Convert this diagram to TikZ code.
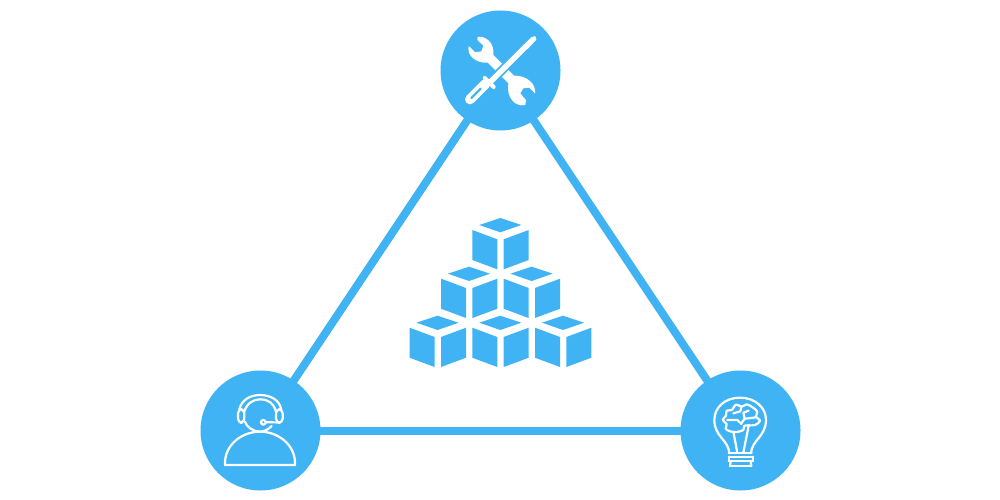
\documentclass[tikz,border=0pt]{standalone}
\definecolor{sky}{HTML}{3FB3F3}
\tikzset{
  hub/.style={circle,fill=sky,draw=none,minimum size=120pt,inner sep=0pt,outer sep=0pt},
  link/.style={draw=sky,line width=8pt,shorten >=-2pt,shorten <=-2pt},
  ico/.style={draw=white,line width=2.2pt,line join=round,line cap=round,fill=none},
  zoomed/.style={x=0.3333pt,y=-0.3333pt}
}
\newcommand{\cubeat}[2]{%
  \begin{scope}[shift={(#1,#2)}]
    \fill[sky] (-21,7) -- (0,0) -- (21,7) -- (0,14.3) -- cycle;
    \fill[sky] (-28,12) -- (-3,21.3) -- (-3,51.3) -- (-28,42) -- cycle;
    \fill[sky] (3.4,21.3) -- (28.4,12) -- (28.4,42) -- (3.4,51.3) -- cycle;
  \end{scope}}
\begin{document}
\begin{tikzpicture}[x=1pt,y=-1pt]
\useasboundingbox (0,0) rectangle (1000,500);
\fill[white] (0,0) rectangle (1000,500);
\node[hub] (tools) at (500.5,70.5) {};
\node[hub] (agent) at (260.5,430.5) {};
\node[hub] (idea) at (740.5,430.5) {};
\draw[link] (tools) -- (agent);
\draw[link] (agent) -- (idea);
\draw[link] (idea) -- (tools);
% blocks
\cubeat{500.3}{218}
\cubeat{469}{266.7}
\cubeat{531.6}{266.7}
\cubeat{437.6}{315.7}
\cubeat{500.3}{315.7}
\cubeat{563}{315.7}
% tools icon
\begin{scope}[shift={(440,10)},zoomed]
  \fill[white] (113,81) .. controls (135,76) and (165,98) .. (160,135)
    -- (222,197) .. controls (258,195) and (290,222) .. (285,250)
    -- (268,233) -- (250,235) -- (241,250) -- (258,270) -- (256,285)
    .. controls (225,292) and (198,262) .. (205,220)
    -- (143,158) .. controls (108,160) and (80,138) .. (86,108)
    -- (106,127) -- (124,124) -- (130,107) -- (112,90) -- cycle;
  \draw[sky,line width=9pt,line cap=round] (270,97) -- (150,217);
  \draw[sky,line width=13pt,line cap=round] (146,218) -- (90,268);
  \draw[white,line width=5.5pt,line cap=butt] (258,109) -- (150,217);
  \fill[white] (286,78) -- (289,89) -- (262,118) -- (250,105) -- (274,82) -- cycle;
  \draw[white,line width=4pt,line cap=round] (134,204) -- (161,231);
  \draw[white,line width=10pt,line cap=round] (136,222) -- (90,268);
  \draw[sky,line width=2.2pt,line cap=round] (122,236) -- (94,264);
\end{scope}
% agent icon
\begin{scope}[shift={(200,370)},zoomed]
  \draw[ico] (75,285) .. controls (72,225) and (125,185) .. (180,185)
    .. controls (235,185) and (288,225) .. (285,285) -- cycle;
  \draw[ico] (133,125) .. controls (140,100) and (160,88) .. (180,88)
    .. controls (205,88) and (222,100) .. (228,125);
  \draw[ico] (135,155) .. controls (140,170) and (155,183) .. (180,185)
    .. controls (195,184) and (205,178) .. (215,168);
  \draw[ico] (118,118) .. controls (125,90) and (150,75) .. (180,75)
    .. controls (212,75) and (238,90) .. (244,118);
  \draw[ico,rounded corners=4pt] (114,118) rectangle (133,158);
  \draw[ico,rounded corners=4pt] (228,118) rectangle (248,158);
  \draw[ico] (238,158) .. controls (235,157) and (225,157) .. (198,157);
  \draw[ico] (190,157) circle[radius=7];
\end{scope}
% idea icon
\begin{scope}[shift={(680,370)},zoomed]
  \draw[ico] (148,250) .. controls (146,210) and (103,200) .. (103,150)
    .. controls (103,112) and (135,83) .. (180,83)
    .. controls (225,83) and (258,112) .. (258,150)
    .. controls (258,200) and (215,210) .. (213,250);
  \draw[ico] (146,250) -- (215,250);
  \draw[ico] (146,260) -- (218,260);
  \draw[ico] (146,274) -- (218,274);
  \draw[ico] (146,260) -- (146,274);
  \draw[ico] (218,260) -- (218,274);
  \draw[ico] (150,288) -- (214,288);
  \draw[ico] (152,274) -- (150,288);
  \draw[ico] (212,274) -- (214,288);
  \draw[ico] (160,185) -- (172,248);
  \draw[ico] (206,167) -- (190,248);
  \draw[ico] plot[smooth cycle,tension=0.55] coordinates {(150,184) (137,176) (140,162) (128,150) (138,137) (140,122) (155,120) (168,104) (186,110) (200,103) (218,112) (232,125) (228,140) (240,152) (226,165) (205,166) (192,168) (190,180) (170,186)};
  \draw[ico] (184,110) -- (181,124) -- (160,130);
  \draw[ico] (206,122) -- (190,128) -- (194,146) -- (184,160);
  \draw[ico] (142,150) -- (172,150) -- (184,162);
  \draw[ico] (196,146) -- (228,142);
\end{scope}
\end{tikzpicture}
\end{document}
